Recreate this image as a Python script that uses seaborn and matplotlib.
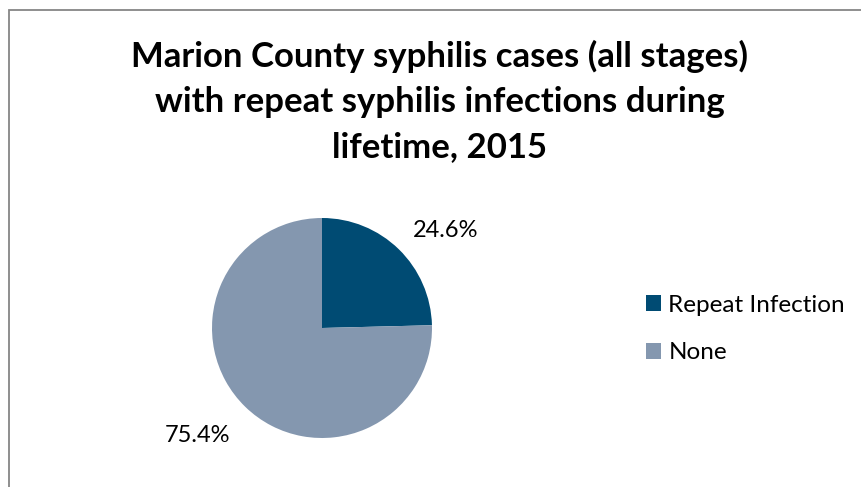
import matplotlib
matplotlib.use("Agg")
import matplotlib.pyplot as plt
import matplotlib.patches as mpatches
import seaborn as sns

categories = ["Repeat Infection", "None"]
values = [24.6, 75.4]
pct_labels = ["24.6%", "75.4%"]
colors = ["#004B73", "#8497AF"]

TITLE = "Marion County syphilis cases (all stages)\nwith repeat syphilis infections during\nlifetime, 2015"


def main():
    sns.set_theme(style="white")
    plt.rcParams["font.family"] = ["Lato", "DejaVu Sans"]
    plt.rcParams["text.color"] = "black"

    W, H = 862, 487
    fig = plt.figure(figsize=(W / 100, H / 100), dpi=100)
    fig.patch.set_facecolor("white")

    # chart border (only top and left visible in reference)
    fig.add_artist(mpatches.Rectangle((9.5 / W, -0.1), 2, (H - 9.5) / H + 0.1,
                                      transform=fig.transFigure, fill=False,
                                      edgecolor="#868686", linewidth=1.3))

    fig.text(440 / W, 1 - 101 / H, TITLE, ha="center", va="center",
             fontsize=25, fontweight="bold", linespacing=1.5, color="black")

    # pie axes: centre (322, 328), radius 110 px
    cx, cy, r = 322, 328, 110
    ax = fig.add_axes([(cx - r) / W, (H - cy - r) / H, 2 * r / W, 2 * r / H])
    wedges, _ = ax.pie(values, colors=colors, startangle=90, counterclock=False,
                       wedgeprops=dict(linewidth=0))
    ax.set_xlim(-1, 1)
    ax.set_ylim(-1, 1)
    ax.set_aspect("equal")
    ax.axis("off")

    ax.text(1.12, 0.89, pct_labels[0], ha="center", va="center", fontsize=17,
            clip_on=False, color="black")
    ax.text(-1.13, -0.98, pct_labels[1], ha="center", va="center", fontsize=17,
            clip_on=False, color="black")

    leg = fig.legend(wedges, categories, loc="center left",
                     bbox_to_anchor=(646 / W, 1 - 329 / H), frameon=False,
                     fontsize=17.5, handlelength=0.62, handleheight=0.62,
                     handletextpad=0.3, labelspacing=1.1, borderaxespad=0,
                     borderpad=0)
    for t in leg.get_texts():
        t.set_color("black")

    fig.savefig("out.png", dpi=100)


if __name__ == "__main__":
    main()
